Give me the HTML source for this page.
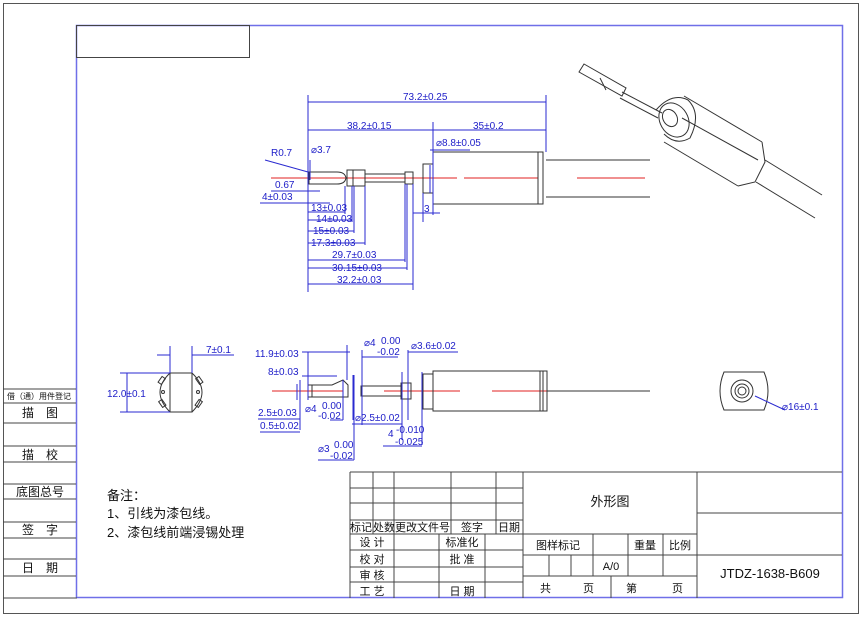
<!DOCTYPE html>
<html><head><meta charset="utf-8"><style>
html,body{margin:0;padding:0;background:#fff}
svg{display:block}
.d{fill:#1c1cc8;font-family:"Liberation Sans","Noto Sans CJK SC",sans-serif;font-size:10px}
.t{fill:#111;font-family:"Liberation Sans","Noto Sans CJK SC",sans-serif;font-size:12px}
.bl{stroke:#2a2ad0;stroke-width:1;fill:none}
.k{stroke:#333;stroke-width:1;fill:none}
.r{stroke:#e02020;stroke-width:1}
</style></head><body>
<svg width="862" height="619" viewBox="0 0 862 619" xmlns="http://www.w3.org/2000/svg">
<!-- frames -->
<rect x="3.5" y="3.5" width="855" height="610" fill="none" stroke="#555"/>
<rect x="76.5" y="25.5" width="766" height="572" fill="none" stroke="#6f6fe8" stroke-width="1.5"/>
<rect x="76.5" y="25.5" width="173" height="32" fill="none" stroke="#444"/>
<line x1="3" y1="598" x2="77" y2="598" stroke="#444"/>
<!-- left column -->
<g stroke="#444">
<line x1="3" y1="389" x2="76" y2="389"/><line x1="3" y1="403" x2="76" y2="403"/>
<line x1="3" y1="423" x2="76" y2="423"/><line x1="3" y1="446" x2="76" y2="446"/>
<line x1="3" y1="462" x2="76" y2="462"/><line x1="3" y1="484" x2="76" y2="484"/>
<line x1="3" y1="499" x2="76" y2="499"/><line x1="3" y1="522" x2="76" y2="522"/>
<line x1="3" y1="538" x2="76" y2="538"/><line x1="3" y1="559" x2="76" y2="559"/>
<line x1="3" y1="576" x2="76" y2="576"/>
</g>
<text x="39" y="399" class="t" style="font-size:8px" text-anchor="middle">借（通）用件登记</text>
<text x="40" y="417" class="t" text-anchor="middle">描　图</text>
<text x="40" y="459" class="t" text-anchor="middle">描　校</text>
<text x="40" y="496" class="t" text-anchor="middle">底图总号</text>
<text x="40" y="534" class="t" text-anchor="middle">签　字</text>
<text x="40" y="572" class="t" text-anchor="middle">日　期</text>
<!-- notes -->
<text x="107" y="500" class="t" style="font-size:13px">备注：</text>
<text x="107" y="518" class="t" style="font-size:13px">1、引线为漆包线。</text>
<text x="107" y="537" class="t" style="font-size:13px">2、漆包线前端浸锡处理</text>
<!-- title block -->
<g stroke="#444" fill="none">
<line x1="350" y1="472" x2="842" y2="472"/>
<line x1="350" y1="472" x2="350" y2="598"/>
<line x1="523" y1="472" x2="523" y2="598"/>
<line x1="697" y1="472" x2="697" y2="598"/>
<line x1="373" y1="472" x2="373" y2="534"/><line x1="394" y1="472" x2="394" y2="598"/>
<line x1="451" y1="472" x2="451" y2="534"/><line x1="496" y1="472" x2="496" y2="534"/>
<line x1="350" y1="488" x2="523" y2="488"/><line x1="350" y1="503" x2="523" y2="503"/>
<line x1="350" y1="520" x2="523" y2="520"/><line x1="350" y1="534" x2="697" y2="534"/>
<line x1="350" y1="550" x2="523" y2="550"/><line x1="350" y1="567" x2="523" y2="567"/>
<line x1="350" y1="582" x2="523" y2="582"/>
<line x1="439" y1="534" x2="439" y2="598"/><line x1="485" y1="534" x2="485" y2="598"/>
<line x1="523" y1="555" x2="697" y2="555"/><line x1="523" y1="576" x2="697" y2="576"/>
<line x1="593" y1="534" x2="593" y2="576"/><line x1="628" y1="534" x2="628" y2="576"/>
<line x1="663" y1="534" x2="663" y2="576"/>
<line x1="549" y1="555" x2="549" y2="576"/><line x1="571" y1="555" x2="571" y2="576"/>
<line x1="611" y1="576" x2="611" y2="598"/>
<line x1="697" y1="513" x2="842" y2="513"/><line x1="697" y1="555" x2="842" y2="555"/>
</g>
<g class="t" style="font-size:11px">
<text x="350" y="531">标记</text><text x="373" y="531">处数</text><text x="395" y="531">更改文件号</text>
<text x="461" y="531">签字</text><text x="498" y="531">日期</text>
<text x="372" y="546" text-anchor="middle">设 计</text><text x="372" y="563" text-anchor="middle">校 对</text>
<text x="372" y="579" text-anchor="middle">审 核</text><text x="372" y="595" text-anchor="middle">工 艺</text>
<text x="462" y="546" text-anchor="middle">标准化</text><text x="462" y="563" text-anchor="middle">批 准</text>
<text x="462" y="595" text-anchor="middle">日 期</text>
<text x="558" y="549" text-anchor="middle">图样标记</text><text x="645" y="549" text-anchor="middle">重量</text>
<text x="680" y="549" text-anchor="middle">比例</text><text x="611" y="570" text-anchor="middle">A/0</text>
<text x="540" y="592">共</text><text x="583" y="592">页</text><text x="626" y="592">第</text><text x="672" y="592">页</text>
</g>
<text x="610" y="506" class="t" style="font-size:13px" text-anchor="middle">外形图</text>
<text x="770" y="578" class="t" text-anchor="middle" style="font-size:13px">JTDZ-1638-B609</text>

<!-- TOP VIEW -->
<g class="r"><line x1="271" y1="178" x2="457" y2="178"/><line x1="464" y1="178" x2="538" y2="178"/><line x1="577" y1="178" x2="645" y2="178"/></g>
<g class="k">
<path d="M309 172 H337 Q345 172 346 178 Q345 184 337 184 H309 Z"/>
<rect x="347" y="170" width="18" height="16"/><line x1="353" y1="170" x2="353" y2="186"/>
<rect x="365" y="174" width="40" height="8"/>
<rect x="405" y="172" width="8" height="12"/>
<rect x="423" y="164" width="10" height="29"/>
<rect x="433" y="152" width="105" height="52"/>
<rect x="538" y="152" width="5" height="52"/>
<line x1="546" y1="160" x2="650" y2="160"/><line x1="546" y1="197" x2="650" y2="197"/>
</g>
<g class="bl">
<line x1="308" y1="95" x2="308" y2="292"/><line x1="546" y1="95" x2="546" y2="152"/><line x1="433" y1="122" x2="433" y2="215"/>
<line x1="308" y1="102" x2="546" y2="102"/><line x1="308" y1="130" x2="546" y2="130"/>
<line x1="310" y1="160" x2="310" y2="180"/><line x1="430" y1="150" x2="470" y2="150"/><line x1="430" y1="165" x2="430" y2="193"/>
<line x1="265" y1="160" x2="308" y2="172"/>
<line x1="271" y1="191" x2="320" y2="191"/><line x1="260" y1="203" x2="330" y2="203"/>
<line x1="413" y1="213" x2="440" y2="213"/><line x1="423" y1="193" x2="423" y2="222"/>
<line x1="308" y1="212" x2="345" y2="212"/><line x1="308" y1="220" x2="352" y2="220"/>
<line x1="308" y1="231" x2="354" y2="231"/><line x1="308" y1="243" x2="365" y2="243"/>
<line x1="308" y1="260" x2="405" y2="260"/><line x1="308" y1="268" x2="407" y2="268"/>
<line x1="308" y1="284" x2="413" y2="284"/>
<line x1="345" y1="186" x2="345" y2="214"/><line x1="352" y1="186" x2="352" y2="222"/>
<line x1="354" y1="186" x2="354" y2="233"/><line x1="365" y1="186" x2="365" y2="245"/>
<line x1="405" y1="184" x2="405" y2="262"/><line x1="407" y1="184" x2="407" y2="270"/>
<line x1="413" y1="184" x2="413" y2="290"/>
</g>
<g class="d">
<text x="403" y="100">73.2±0.25</text><text x="347" y="129">38.2±0.15</text><text x="473" y="129">35±0.2</text>
<text x="436" y="146">⌀8.8±0.05</text><text x="311" y="153">⌀3.7</text><text x="271" y="156">R0.7</text>
<text x="275" y="188">0.67</text><text x="262" y="200">4±0.03</text><text x="424" y="212">3</text>
<text x="311" y="211">13±0.03</text><text x="316" y="222">14±0.03</text><text x="313" y="234">15±0.03</text>
<text x="311" y="246">17.3±0.03</text><text x="332" y="258">29.7±0.03</text><text x="332" y="271">30.15±0.03</text>
<text x="337" y="283">32.2±0.03</text>
</g>

<!-- ISOMETRIC -->
<g class="k">
<path d="M579 72 L584 64 L626 88 L622 96 Z"/>
<line x1="600" y1="78" x2="606" y2="90"/>
<path d="M622 92 L662 113 M620 98 L658 118"/>
<path d="M656 110 Q672 92 688 100 Q702 114 690 138 Q676 146 664 134"/>
<ellipse cx="674" cy="120" rx="14" ry="18" transform="rotate(-30 674 120)"/>
<ellipse cx="670" cy="118" rx="7" ry="9" transform="rotate(-30 670 118)"/>
<line x1="684" y1="96" x2="762" y2="142"/><line x1="664" y1="142" x2="738" y2="186"/>
<line x1="682" y1="118" x2="758" y2="160"/>
<path d="M762 142 L765 162 L755 182 L738 186"/>
<line x1="765" y1="160" x2="822" y2="195"/><line x1="756" y1="182" x2="815" y2="218"/>
</g>

<!-- BOTTOM LEFT END VIEW -->
<g class="k">
<rect x="170" y="373" width="22" height="39"/>
<path d="M170 373 Q150 392 170 412"/><path d="M192 373 Q212 392 192 412"/>
<circle cx="163" cy="392" r="1.5"/><circle cx="198" cy="392" r="1.5"/>
<rect x="160" y="377" width="4" height="7" transform="rotate(35 162 380)"/>
<rect x="160" y="400" width="4" height="7" transform="rotate(-35 162 403)"/>
<rect x="197" y="377" width="4" height="7" transform="rotate(-35 199 380)"/>
<rect x="197" y="400" width="4" height="7" transform="rotate(35 199 403)"/>
</g>
<g class="bl">
<line x1="120" y1="373" x2="170" y2="373"/><line x1="120" y1="412" x2="170" y2="412"/>
<line x1="127" y1="373" x2="127" y2="412"/>
<line x1="170" y1="346" x2="170" y2="373"/><line x1="192" y1="346" x2="192" y2="373"/>
<line x1="157" y1="355" x2="170" y2="355"/><line x1="192" y1="355" x2="234" y2="355"/>
</g>
<text x="107" y="397" class="d">12.0±0.1</text><text x="206" y="353" class="d">7±0.1</text>

<!-- SIDE VIEW -->
<g class="r"><line x1="272" y1="391" x2="343" y2="391"/><line x1="384" y1="391" x2="460" y2="391"/><line x1="492" y1="391" x2="549" y2="391"/></g>
<g class="k">
<path d="M308 385 H332 L343 380 L348 385 V397 H308 Z"/>
<line x1="312" y1="385" x2="312" y2="397"/>
<rect x="361" y="386" width="40" height="10"/>
<rect x="401" y="383" width="10" height="16"/>
<rect x="423" y="374" width="10" height="35"/>
<rect x="433" y="371" width="114" height="40"/>
<line x1="540" y1="371" x2="540" y2="411"/><line x1="543" y1="371" x2="543" y2="411"/>
<line x1="547" y1="391" x2="650" y2="391"/>
</g>
<g class="bl">
<line x1="302" y1="352" x2="350" y2="352"/><line x1="302" y1="376" x2="337" y2="376"/>
<line x1="308" y1="352" x2="308" y2="400"/><line x1="347" y1="345" x2="347" y2="380"/>
<line x1="300" y1="380" x2="300" y2="430"/><line x1="297" y1="384" x2="297" y2="400"/>
<line x1="353" y1="375" x2="353" y2="420"/><line x1="343" y1="380" x2="343" y2="420"/>
<line x1="354" y1="375" x2="354" y2="460"/><line x1="362" y1="350" x2="362" y2="425"/>
<line x1="402" y1="372" x2="402" y2="440"/><line x1="408" y1="350" x2="408" y2="420"/>
<line x1="422" y1="372" x2="422" y2="445"/>
<line x1="258" y1="419" x2="300" y2="419"/><line x1="260" y1="432" x2="300" y2="432"/>
<line x1="330" y1="420" x2="343" y2="420"/><line x1="352" y1="424" x2="402" y2="424"/>
<line x1="318" y1="460" x2="354" y2="460"/><line x1="383" y1="446" x2="422" y2="446"/>
<line x1="362" y1="357" x2="398" y2="357"/><line x1="408" y1="352" x2="458" y2="352"/>
</g>
<g class="d">
<text x="255" y="357">11.9±0.03</text><text x="268" y="375">8±0.03</text>
<text x="364" y="346">⌀4</text><text x="381" y="344">0.00</text><text x="377" y="355">-0.02</text>
<text x="411" y="349">⌀3.6±0.02</text>
<text x="258" y="416">2.5±0.03</text><text x="260" y="429">0.5±0.02</text>
<text x="305" y="412">⌀4</text><text x="322" y="409">0.00</text><text x="318" y="419">-0.02</text>
<text x="355" y="421">⌀2.5±0.02</text>
<text x="388" y="437">4</text><text x="396" y="433">-0.010</text><text x="395" y="445">-0.025</text>
<text x="318" y="452">⌀3</text><text x="334" y="448">0.00</text><text x="330" y="459">-0.02</text>
</g>

<!-- RIGHT END VIEW -->
<g class="k">
<path d="M724 372 H764 Q772 391 764 410 H724 Q716 391 724 372 Z"/>
<circle cx="742" cy="391" r="11"/><circle cx="742" cy="391" r="7"/><circle cx="742" cy="391" r="4"/>
</g>
<line x1="755" y1="396" x2="785" y2="410" class="bl"/>
<text x="782" y="410" class="d">⌀16±0.1</text>
</svg>
</body></html>
